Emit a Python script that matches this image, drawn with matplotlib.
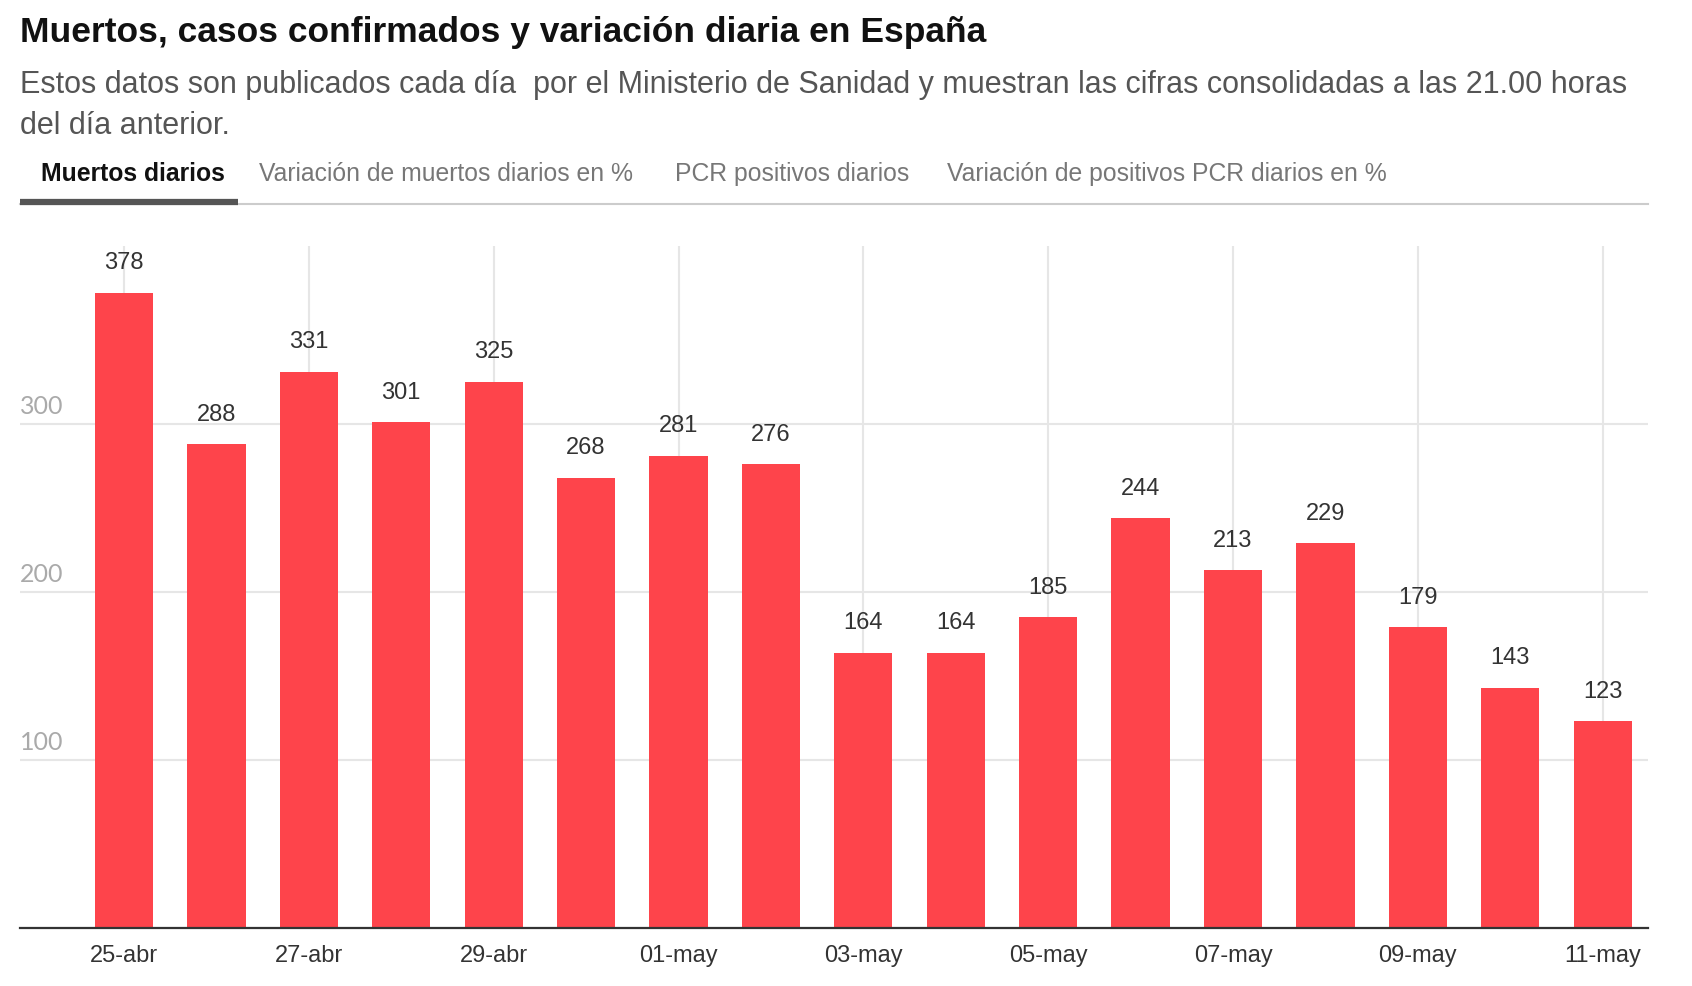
import matplotlib.pyplot as plt
import matplotlib.transforms as mtransforms
from matplotlib.lines import Line2D

# datos
fechas = ['25-abr', '26-abr', '27-abr', '28-abr', '29-abr', '30-abr', '01-may', '02-may',
          '03-may', '04-may', '05-may', '06-may', '07-may', '08-may', '09-may', '10-may', '11-may']
muertos = [378, 288, 331, 301, 325, 268, 281, 276, 164, 164, 185, 244, 213, 229, 179, 143, 123]
yticks = [100, 200, 300]
pestanas = ['Muertos diarios', 'Variación de muertos diarios en %',
            'PCR positivos diarios', 'Variación de positivos PCR diarios en %']
titulo = 'Muertos, casos confirmados y variación diaria en España'
subtitulo = ['Estos datos son publicados cada día  por el Ministerio de Sanidad y muestran '
             'las cifras consolidadas a las 21.00 horas',
             'del día anterior.']

FONT = ['Liberation Sans', 'DejaVu Sans']
plt.rcParams['font.family'] = FONT

W, H = 1692, 986
fig = plt.figure(figsize=(W / 100, H / 100), dpi=100)
ax = fig.add_axes([20 / W, 1 - 928 / H, (1648 - 20) / W, (928 - 246) / H])

x = list(range(len(fechas)))
ax.bar(x, muertos, width=0.63, color='#fe444b', zorder=2)

ax.set_xlim(-1.125, 16.49)
ax.set_ylim(0, 406)

# rejilla
for v in yticks:
    ax.axhline(v, color='#e6e6e6', lw=1.5, zorder=0)
for i in x[::2]:
    ax.axvline(i, color='#e6e6e6', lw=1.5, zorder=0)

for s in ['top', 'right', 'left']:
    ax.spines[s].set_visible(False)
ax.spines['bottom'].set_color('#333333')
ax.spines['bottom'].set_linewidth(1.6)

ax.set_yticks([])
ax.set_xticks(x[::2])
ax.set_xticklabels(fechas[::2], fontsize=17, color='#333333')
ax.tick_params(axis='x', length=0, pad=12)

trans = mtransforms.blended_transform_factory(ax.transAxes, ax.transData)
for v in yticks:
    ax.text(0, v + 6, str(v), transform=trans, fontsize=18, color='#aaaaaa',
            family=['Lato', 'DejaVu Sans'], ha='left', va='baseline')

for i, v in zip(x, muertos):
    ax.annotate(str(v), (i, v), xytext=(0, 17), textcoords='offset points',
                ha='center', va='baseline', fontsize=17, color='#333333')

# cabecera
fig.text(20 / W, 1 - 42 / H, titulo, fontsize=25.5, fontweight='bold', color='#111111',
         ha='left', va='baseline')
for k, linea in enumerate(subtitulo):
    fig.text(20 / W, 1 - (93 + 41 * k) / H, linea, fontsize=22, color='#555555',
             ha='left', va='baseline')

tab_x = [41, 259, 675, 947]
for j, (t, px) in enumerate(zip(pestanas, tab_x)):
    fig.text(px / W, 1 - 181 / H, t, fontsize=17.8,
             fontweight='bold' if j == 0 else 'normal',
             color='#111111' if j == 0 else '#777777', ha='left', va='baseline')

fig.add_artist(Line2D([20 / W, 1648 / W], [1 - 204 / H] * 2, color='#cccccc', lw=1.5))
fig.add_artist(Line2D([20 / W, 238 / W], [1 - 202 / H] * 2, color='#555555', lw=4.5,
                      solid_capstyle='butt'))

fig.savefig('out.png', dpi=100)
